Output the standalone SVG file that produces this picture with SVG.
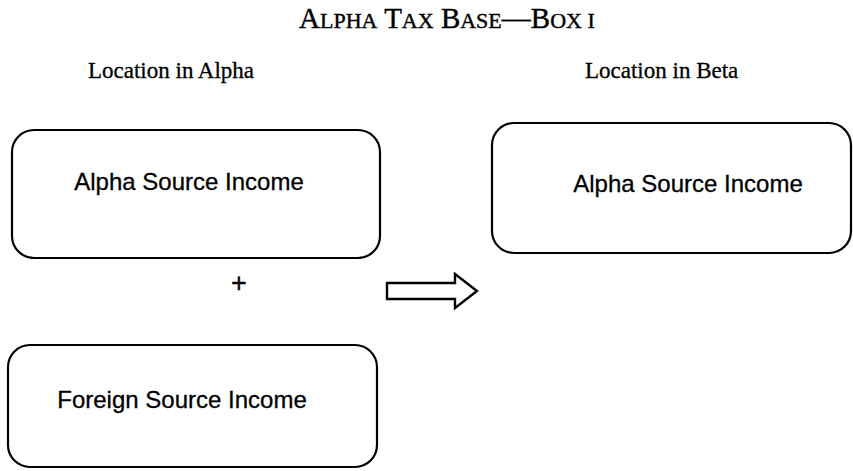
<svg xmlns="http://www.w3.org/2000/svg" width="853" height="471" viewBox="0 0 853 471">
<style>
.box{fill:#fff;stroke:#000;stroke-width:2.2}
.lbl{font-family:"Liberation Sans",Arial,sans-serif;font-size:24px;fill:#000;stroke:#000;stroke-width:0.3;text-anchor:middle}
.hdr{font-family:"Liberation Serif","Times New Roman",serif;font-size:23px;fill:#000;stroke:#000;stroke-width:0.3}
.ttl{font-family:"Liberation Serif","Times New Roman",serif;font-size:29px;fill:#000;stroke:#000;stroke-width:0.4}
.sc{font-size:22px}
</style>
<rect width="853" height="471" fill="#fff"/>
<text class="ttl" x="299" y="28">A<tspan class="sc">LPHA</tspan> T<tspan class="sc">AX</tspan> B<tspan class="sc">ASE</tspan>—B<tspan class="sc">OX I</tspan></text>
<text class="hdr" x="88" y="78">Location in Alpha</text>
<text class="hdr" x="585" y="78">Location in Beta</text>
<g id="alpha-income-alpha">
<rect class="box" x="12" y="130" width="368" height="128" rx="22"/>
<text class="lbl" x="189" y="190">Alpha Source Income</text>
</g>
<g id="foreign-income-alpha">
<rect class="box" x="8" y="345" width="369" height="122" rx="22"/>
<text class="lbl" x="182" y="408">Foreign Source Income</text>
</g>
<g id="alpha-income-beta">
<rect class="box" x="492" y="123" width="359" height="130" rx="22"/>
<text class="lbl" x="688" y="192">Alpha Source Income</text>
</g>
<text class="lbl" x="239" y="292" style="font-size:27px">+</text>
<g id="connectors">
<polygon points="387,283 455,283 455,274 477,291 455,308 455,299 387,299" fill="#fff" stroke="#000" stroke-width="2.4" stroke-linejoin="miter"/>
</g>
</svg>
